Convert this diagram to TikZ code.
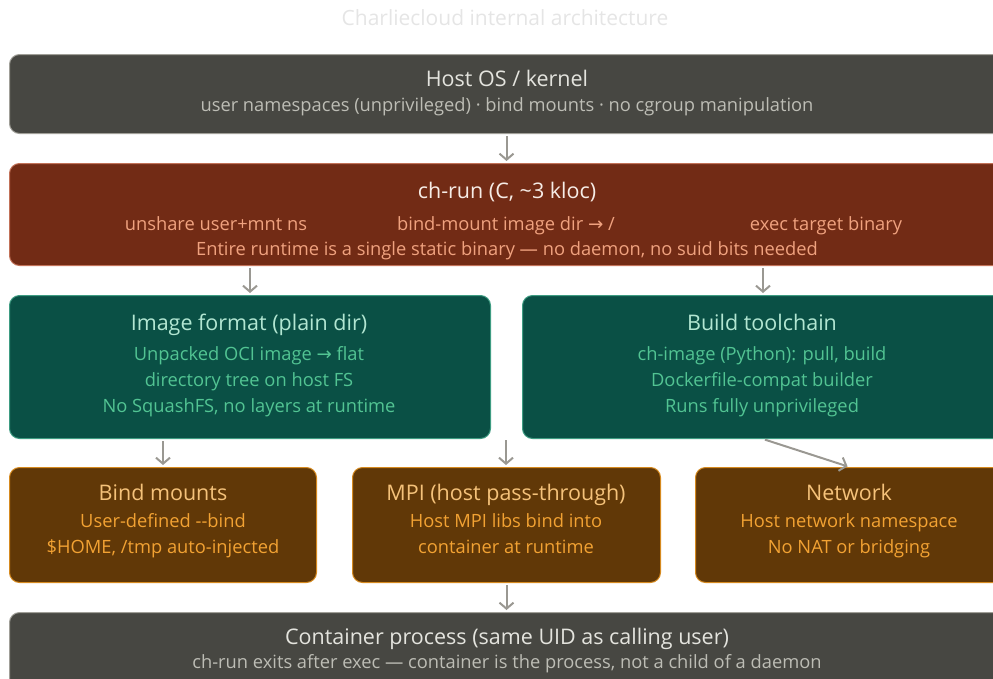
\documentclass[tikz,border=0pt]{standalone}
\usepackage{fontspec}
\setmainfont{Open Sans}
\newfontfamily\symfont{DejaVu Sans}
\newcommand{\toarr}{{\symfont →}}
\usepackage{xcolor}
\usetikzlibrary{arrows.meta, positioning, calc}

\definecolor{hostfill}{HTML}{474742}
\definecolor{hostline}{HTML}{A09F98}
\definecolor{hosttitle}{HTML}{E4E4DE}
\definecolor{hostsub}{HTML}{BDBDB5}
\definecolor{runfill}{HTML}{722B15}
\definecolor{runline}{HTML}{C27259}
\definecolor{runtitle}{HTML}{F6ECE6}
\definecolor{runsub}{HTML}{F0A27F}
\definecolor{imgfill}{HTML}{0A5045}
\definecolor{imgline}{HTML}{3E9C82}
\definecolor{imgtitle}{HTML}{B2E6D2}
\definecolor{imgsub}{HTML}{52C493}
\definecolor{modfill}{HTML}{613807}
\definecolor{modline}{HTML}{D68A1F}
\definecolor{modtitle}{HTML}{F5C27A}
\definecolor{modsub}{HTML}{F2A233}
\definecolor{arrgray}{HTML}{9A9892}

\begin{document}
\begin{tikzpicture}[x=1pt, y=-1pt,
    box/.style={draw, line width=1pt, rounded corners=10pt, anchor=north west, inner sep=0pt},
    hostbox/.style={box, fill=hostfill, draw=hostline},
    runbox/.style={box, fill=runfill, draw=runline},
    imgbox/.style={box, fill=imgfill, draw=imgline},
    modbox/.style={box, fill=modfill, draw=modline},
    ttl/.style={font=\fontsize{21.5}{24}\selectfont, inner sep=0pt, anchor=base, yshift=-8pt},
    sub/.style={font=\fontsize{18.3}{25.8}\selectfont, inner sep=0pt, align=center,
                anchor=base, yshift=-6.5pt},
    arr/.style={-{Straight Barb[length=6pt, width=14pt]}, line width=2pt, arrgray,
                shorten <=2pt, shorten >=2pt}]
  \useasboundingbox (0,0) rectangle (993,678);
  \clip (0,0) rectangle (993,678);

  \node[font=\fontsize{21}{24}\selectfont, text=black!10] (title) at (505,18)
        {Charliecloud internal architecture};

  % host and ch-run
  \node[hostbox, minimum width=994pt, minimum height=79pt] (host) at (9,54) {};
  \node[ttl, text=hosttitle] (hostT) at (507,78) {Host OS / kernel};
  \node[sub, text=hostsub] (hostS) at (507,105)
        {user namespaces (unprivileged) · bind mounts · no cgroup manipulation};

  \node[runbox, minimum width=994pt, minimum height=102pt] (run) at (9,163) {};
  \node[ttl, text=runtitle] (runT) at (507,190) {ch-run (C, \textasciitilde3 kloc)};
  \node[sub, text=runsub] (runA) at (216,224) {unshare user+mnt ns};
  \node[sub, text=runsub] (runB) at (506,224) {bind-mount image dir \toarr{} /};
  \node[sub, text=runsub] (runC) at (826,224) {exec target binary};
  \node[sub, text=runsub] (runS) at (507,249)
        {Entire runtime is a single static binary — no daemon, no suid bits needed};

  % image + build (last line sets the base)
  \node[imgbox, minimum width=481pt, minimum height=143pt] (img) at (9,295) {};
  \node[ttl, text=imgtitle] (imgT) at (249,322) {Image format (plain dir)};
  \node[sub, text=imgsub] (imgS) at (249,406)
        {Unpacked OCI image \toarr{} flat\\directory tree on host FS\\No SquashFS, no layers at runtime};

  \node[imgbox, minimum width=481pt, minimum height=143pt] (build) at (522,295) {};
  \node[ttl, text=imgtitle] (buildT) at (762,322) {Build toolchain};
  \node[sub, text=imgsub] (buildS) at (762,406)
        {ch-image (Python): pull, build\\Dockerfile-compat builder\\Runs fully unprivileged};

  % bottom modules
  \node[modbox, minimum width=307pt, minimum height=115pt] (bind) at (9,467) {};
  \node[ttl, text=modtitle] (bindT) at (163,492) {Bind mounts};
  \node[sub, text=modsub] (bindS) at (163,547)
        {User-defined -{}-bind\\\$HOME, /tmp auto-injected};

  \node[modbox, minimum width=308pt, minimum height=115pt] (mpi) at (352,467) {};
  \node[ttl, text=modtitle] (mpiT) at (506,492) {MPI (host pass-through)};
  \node[sub, text=modsub] (mpiS) at (506,547)
        {Host MPI libs bind into\\container at runtime};

  \node[modbox, minimum width=308pt, minimum height=115pt] (net) at (695,467) {};
  \node[ttl, text=modtitle] (netT) at (849,492) {Network};
  \node[sub, text=modsub] (netS) at (849,547)
        {Host network namespace\\No NAT or bridging};

  \node[hostbox, minimum width=994pt, minimum height=90pt] (cont) at (9,612) {};
  \node[ttl, text=hosttitle] (contT) at (507,636) {Container process (same UID as calling user)};
  \node[sub, text=hostsub] (contS) at (507,662)
        {ch-run exits after exec — container is the process, not a child of a daemon};

  % connectors
  \coordinate (gap) at (506,438);
  \draw[arr] (host.south) -- (host.south |- run.north);
  \draw[arr] (img.north |- run.south) -- (img.north);
  \draw[arr] (build.north |- run.south) -- (build.north);
  \draw[arr] (bind.north |- img.south) -- (bind.north);
  \draw[arr] (gap) -- (gap |- mpi.north);
  \draw[arr] (build.south) -- (net.north);
  \draw[arr] (mpi.south) -- (mpi.south |- cont.north);
\end{tikzpicture}
\end{document}
